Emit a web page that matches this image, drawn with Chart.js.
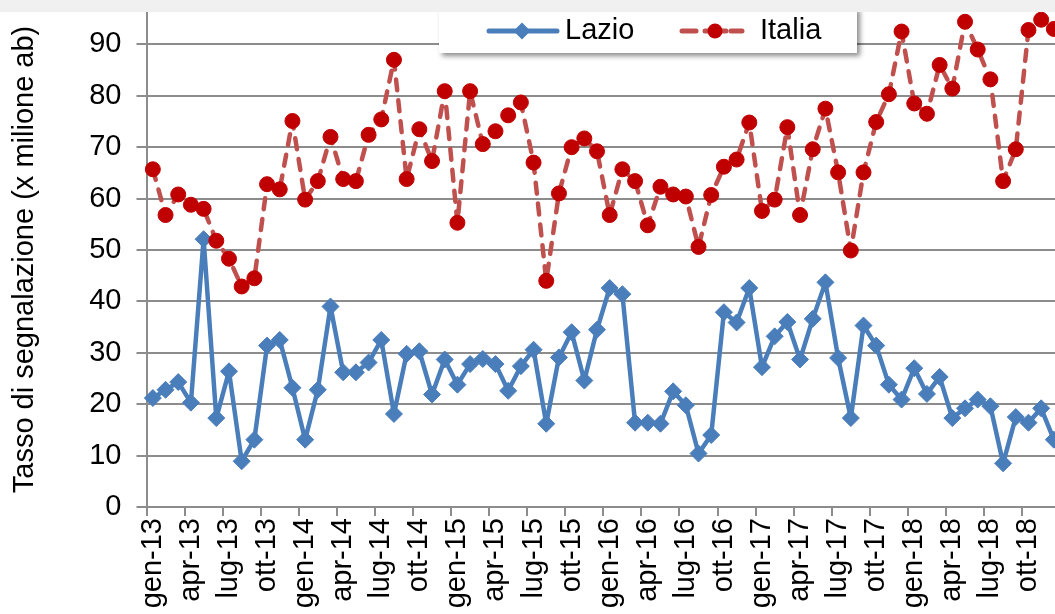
<!DOCTYPE html>
<html>
<head>
<meta charset="utf-8">
<script src="https://cdn.jsdelivr.net/npm/chart.js@4.4.1/dist/chart.umd.min.js"></script>
<style>
  html, body { margin: 0; padding: 0; overflow: hidden; background: #fff; width: 1055px; height: 614px; }
  #fascia { position: absolute; left: 0; top: 0; width: 1055px; height: 12px; background: #f0f0f0; z-index: 2; }
  #contenitore { position: absolute; left: 0; top: 12px; width: 1075px; height: 640px; }
</style>
</head>
<body>
<div id="fascia"></div>
<div id="contenitore"><canvas id="grafico" width="1075" height="640"></canvas></div>
<script>
// Mesi da gen-13 a dic-18
const mesi = ['gen', 'feb', 'mar', 'apr', 'mag', 'giu', 'lug', 'ago', 'set', 'ott', 'nov', 'dic'];
const anni = ['13', '14', '15', '16', '17', '18'];
const etichette = [];
anni.forEach(a => mesi.forEach(m => etichette.push(m + '-' + a)));

// Tacche dell'asse Y
const tacche = [0, 10, 20, 30, 40, 50, 60, 70, 80, 90];

// Tasso di segnalazione (x milione ab)
const lazio = [
  21.2, 22.8, 24.3, 20.3, 52.1, 17.3, 26.4, 8.9, 13.1, 31.4, 32.5, 23.2,
  13.1, 22.8, 39.0, 26.2, 26.2, 28.1, 32.5, 18.1, 29.8, 30.3, 21.9, 28.7,
  23.8, 27.8, 28.8, 27.8, 22.6, 27.4, 30.6, 16.2, 29.1, 34.0, 24.6, 34.5,
  42.6, 41.4, 16.4, 16.4, 16.2, 22.5, 19.8, 10.4, 14.0, 37.9, 35.9, 42.6,
  27.2, 33.2, 36.0, 28.7, 36.6, 43.7, 29.0, 17.3, 35.3, 31.4, 23.8, 20.9,
  27.0, 22.0, 25.3, 17.3, 19.2, 20.9, 19.6, 8.5, 17.5, 16.4, 19.2, 13.1
];
const italia = [
  65.7, 56.8, 60.8, 58.8, 58.0, 51.8, 48.3, 42.9, 44.5, 62.8, 61.8, 75.1,
  59.8, 63.4, 72.0, 63.8, 63.4, 72.4, 75.4, 87.0, 63.8, 73.5, 67.3, 80.9,
  55.3, 80.9, 70.6, 73.1, 76.2, 78.7, 67.0, 44.0, 61.0, 70.0, 71.7, 69.2,
  56.8, 65.7, 63.4, 54.8, 62.3, 60.8, 60.4, 50.6, 60.7, 66.2, 67.6, 74.8,
  57.6, 59.8, 73.9, 56.8, 69.6, 77.5, 65.1, 49.9, 65.1, 74.9, 80.3, 92.5,
  78.5, 76.5, 86.0, 81.4, 94.4, 89.0, 83.2, 63.4, 69.6, 92.8, 94.8, 93.0
];

const BLU = '#4a7ebb';
const ROSSO_LINEA = '#c0504d';
const ROSSO_PUNTO = '#c00000';
const GRIGIO = '#8c8c8c';
const FONT = { family: '"Liberation Sans", Arial, sans-serif', size: 29 };

// Legenda disegnata a mano (riquadro con ombra dentro l'area del grafico)
const legendaBox = {
  id: 'legendaBox',
  afterDraw(chart) {
    const ctx = chart.ctx;
    ctx.save();
    ctx.shadowColor = 'rgba(0,0,0,0.45)';
    ctx.shadowBlur = 5;
    ctx.shadowOffsetX = 3;
    ctx.shadowOffsetY = 3;
    ctx.fillStyle = '#fff';
    ctx.fillRect(439, -5, 418, 46);
    ctx.restore();

    ctx.save();
    const y = 19;
    // Lazio
    ctx.strokeStyle = BLU;
    ctx.lineWidth = 5;
    ctx.lineCap = 'round';
    ctx.beginPath();
    ctx.moveTo(489, y);
    ctx.lineTo(557, y);
    ctx.stroke();
    ctx.fillStyle = BLU;
    ctx.beginPath();
    ctx.moveTo(522, y - 8.5);
    ctx.lineTo(530.5, y);
    ctx.lineTo(522, y + 8.5);
    ctx.lineTo(513.5, y);
    ctx.closePath();
    ctx.fill();
    // Italia
    ctx.strokeStyle = ROSSO_LINEA;
    [[682, 696], [705, 726], [731, 742]].forEach(s => {
      ctx.beginPath();
      ctx.moveTo(s[0], y);
      ctx.lineTo(s[1], y);
      ctx.stroke();
    });
    ctx.fillStyle = ROSSO_PUNTO;
    ctx.beginPath();
    ctx.arc(715, y, 7.5, 0, Math.PI * 2);
    ctx.fill();

    ctx.fillStyle = '#000';
    ctx.font = FONT.size + 'px ' + FONT.family;
    ctx.textBaseline = 'alphabetic';
    ctx.fillText('Lazio', 565, 27);
    ctx.fillText('Italia', 760, 27);
    ctx.restore();
  }
};

const ctx = document.getElementById('grafico').getContext('2d');
const grafico = new Chart(ctx, {
  type: 'line',
  data: {
    labels: etichette,
    datasets: [
      {
        label: 'Lazio',
        data: lazio,
        borderColor: BLU,
        borderWidth: 4.5,
        borderJoinStyle: 'round',
        tension: 0,
        pointStyle: 'rectRot',
        pointRadius: 8.5,
        pointBackgroundColor: BLU,
        pointBorderColor: BLU,
        pointBorderWidth: 1,
        clip: false,
        order: 1
      },
      {
        label: 'Italia',
        data: italia,
        borderColor: ROSSO_LINEA,
        borderWidth: 4.5,
        borderDash: [11, 10],
        borderCapStyle: 'round',
        borderJoinStyle: 'round',
        tension: 0,
        pointStyle: 'circle',
        pointRadius: 7.5,
        pointBackgroundColor: ROSSO_PUNTO,
        pointBorderColor: ROSSO_PUNTO,
        pointBorderWidth: 1,
        clip: false,
        order: 0
      }
    ]
  },
  options: {
    responsive: false,
    animation: false,
    devicePixelRatio: 1,
    layout: { autoPadding: false, padding: { left: 0, right: 14.8, top: 0, bottom: 0 } },
    plugins: {
      legend: { display: false },
      tooltip: { enabled: false }
    },
    scales: {
      x: {
        offset: true,
        grid: {
          offset: true,
          drawOnChartArea: false,
          tickLength: 9,
          lineWidth: 2,
          color: c => (c.index % 3 === 0 ? GRIGIO : 'rgba(0,0,0,0)')
        },
        border: { display: true, color: GRIGIO, width: 2 },
        ticks: {
          autoSkip: false,
          minRotation: 90,
          maxRotation: 90,
          padding: 2,
          color: '#000',
          font: FONT,
          callback: (v, i) => (i % 3 === 0 ? etichette[i] : '')
        },
        afterFit: s => {
          s.height = 145;
          s.paddingLeft = 0;
          s.paddingRight = 0;
        }
      },
      y: {
        min: 0,
        max: 96.3,
        ticks: { padding: 15, color: '#000', font: FONT },
        afterBuildTicks: s => { s.ticks = tacche.map(v => ({ value: v })); },
        grid: { color: GRIGIO, lineWidth: 2, tickLength: 10 },
        border: { display: true, color: GRIGIO, width: 2 },
        title: {
          display: true,
          text: 'Tasso di segnalazione (x milione ab)',
          color: '#000',
          font: FONT,
          padding: { top: 8, bottom: 0 }
        },
        afterFit: s => {
          s.width = 146.5;
          s.paddingTop = 0;
          s.paddingBottom = 0;
        }
      }
    }
  },
  plugins: [legendaBox]
});
</script>
</body>
</html>
